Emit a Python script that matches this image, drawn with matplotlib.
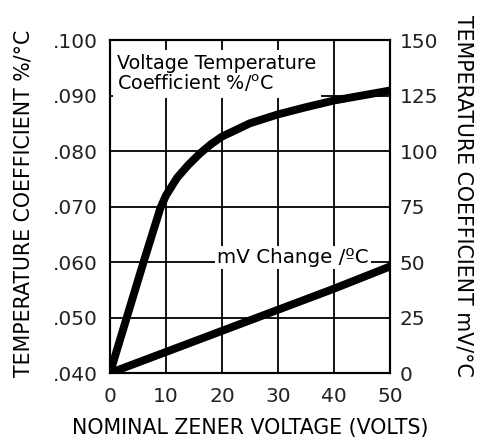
import matplotlib
matplotlib.use("Agg")
import matplotlib.pyplot as plt

plt.rcParams['font.family'] = ['DejaVu Sans']

# Data
volts_tc = [0, 3, 6, 9, 10, 12, 14, 16, 18, 20, 25, 30, 35, 40, 45, 50]
tc_pct = [0.040, 0.050, 0.060, 0.0697, 0.0720, 0.0752, 0.0775, 0.0795, 0.0812,
          0.0826, 0.0850, 0.0866, 0.0879, 0.0891, 0.0900, 0.0909]
volts_mv = [0, 10, 20, 30, 40, 50]
tc_mv = [0, 9.5, 19, 28.5, 38, 48]

x_ticks = [0, 10, 20, 30, 40, 50]
left_ticks = [0.040, 0.050, 0.060, 0.070, 0.080, 0.090, 0.100]
left_labels = ['.040', '.050', '.060', '.070', '.080', '.090', '.100']
right_ticks = [0, 25, 50, 75, 100, 125, 150]

fig = plt.figure(figsize=(4.78, 4.42), dpi=100)
ax = fig.add_axes([0.230, 0.156, 0.586, 0.7535])
ax2 = ax.twinx()

ax.set_xlim(0, 50)
ax.set_ylim(0.040, 0.100)
ax2.set_ylim(0, 150)

ax.set_xticks(x_ticks)
ax.set_yticks(left_ticks)
ax.set_yticklabels(left_labels)
ax2.set_yticks(right_ticks)

ax.grid(True, color='black', linewidth=1.3)
ax.set_axisbelow(True)
for a in (ax, ax2):
    for s in a.spines.values():
        s.set_linewidth(1.5)
    a.tick_params(length=0, labelsize=14.5, colors='#222222')
ax.tick_params(axis='y', pad=9)
ax.tick_params(axis='x', pad=10)
ax2.tick_params(axis='y', pad=7)

ax.plot(volts_tc, tc_pct, color='black', linewidth=5.7, zorder=3)
ax2.plot(volts_mv, tc_mv, color='black', linewidth=5.7, zorder=3)

fig.text(250 / 478, 1 - 428 / 442, 'NOMINAL ZENER VOLTAGE (VOLTS)',
         fontsize=14.8, ha='center', va='center')
fig.text(24 / 478, 1 - 203 / 442, 'TEMPERATURE COEFFICIENT %/°C',
         fontsize=14.8, ha='center', va='center', rotation=90)
fig.text(463 / 478, 1 - 196 / 442, 'TEMPERATURE COEFFICIENT mV/°C',
         fontsize=14.8, ha='center', va='center', rotation=-90)

ax.text(1.3, 0.0975, 'Voltage Temperature\nCoefficient %/$^{\\rm o}$C',
        fontsize=13.8, va='top', ha='left', linespacing=1.0,
        bbox=dict(facecolor='white', edgecolor='none', pad=3), zorder=4)
ax2.text(32.7, 52, 'mV Change /ºC', fontsize=14.3, va='center', ha='center',
         bbox=dict(facecolor='white', edgecolor='none', pad=1.5), zorder=4)

fig.savefig('out.png', dpi=100)
